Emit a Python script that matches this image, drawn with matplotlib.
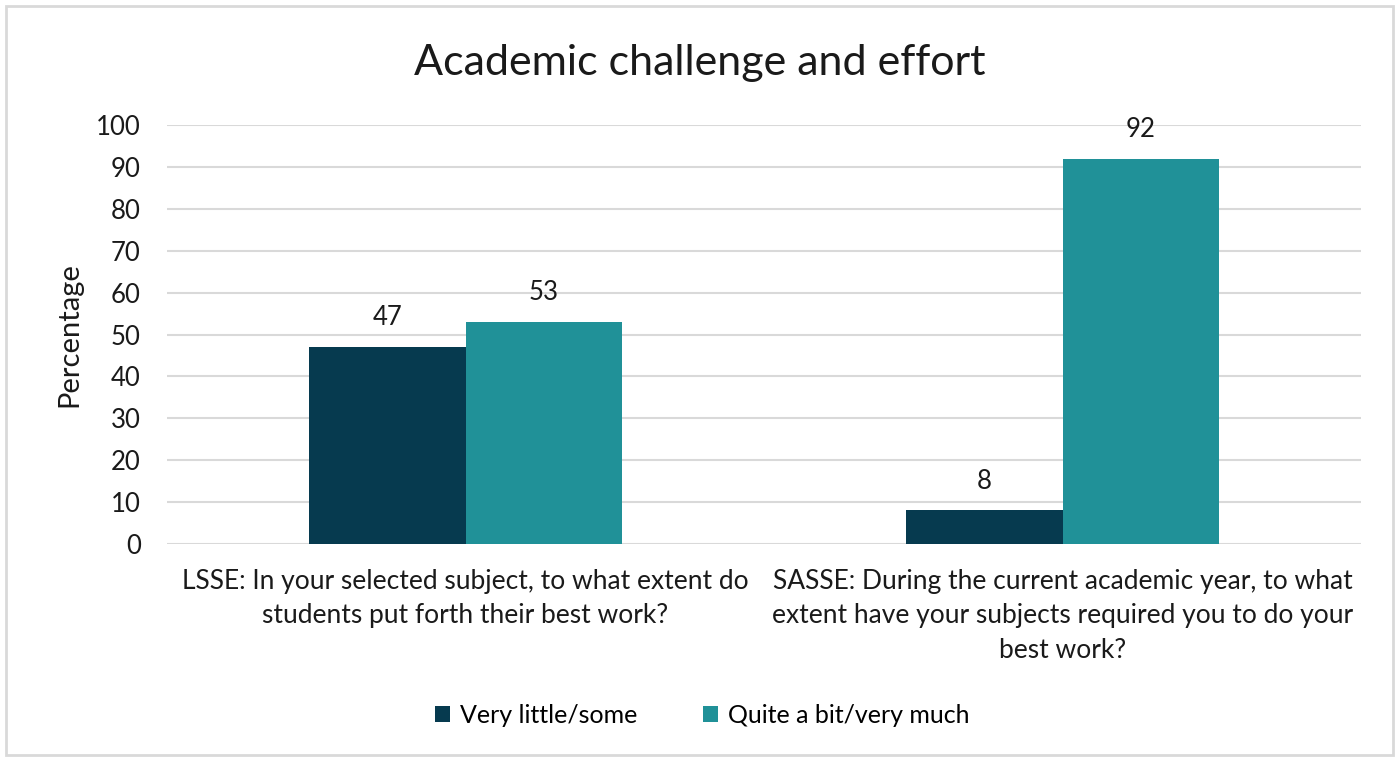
import matplotlib.pyplot as plt
import numpy as np
from matplotlib.patches import Rectangle

plt.rcParams['font.family'] = ['Lato', 'DejaVu Sans']

categories = ['LSSE: In your selected subject, to what extent do\nstudents put forth their best work?',
              'SASSE: During the current academic year, to what\nextent have your subjects required you to do your\nbest work?']
series_names = ['Very little/some', 'Quite a bit/very much']
little_some = [47, 8]
quite_much = [53, 92]
colors = ['#063a4f', '#209198']

fig = plt.figure(figsize=(13.99, 7.6), dpi=100, facecolor='white')
fig.patches.append(Rectangle((0.004, 0.007), 0.992, 0.985, transform=fig.transFigure,
                             fill=False, edgecolor='#d9d9d9', linewidth=2))
ax = fig.add_axes([0.1194, 0.2842, 0.8535, 0.5513])

x = np.arange(len(categories))
w = 0.262
b1 = ax.bar(x - w / 2, little_some, w, color=colors[0], label=series_names[0])
b2 = ax.bar(x + w / 2, quite_much, w, color=colors[1], label=series_names[1])
for bars in (b1, b2):
    ax.bar_label(bars, padding=12, fontsize=18.5, color='#1a1a1a')

ax.set_xlim(-0.5, 1.5)
ax.set_ylim(0, 100)
ax.set_yticks(range(0, 101, 10))
ax.grid(axis='y', color='#d9d9d9', linewidth=1.5)
ax.set_axisbelow(True)
for s in ax.spines.values():
    s.set_visible(False)
ax.tick_params(length=0, labelsize=18.5, colors='#1a1a1a')
ax.tick_params(axis='y', pad=19)
ax.set_xticks(x)
ax.set_xticklabels(categories, fontsize=19, linespacing=1.47)
ax.tick_params(axis='x', pad=18)
ax.set_ylabel('Percentage', fontsize=21, color='#1a1a1a', labelpad=10)

fig.suptitle('Academic challenge and effort', fontsize=31, y=0.942, color='#1a1a1a')
fig.legend(loc='center', bbox_to_anchor=(0.502, 0.059), ncol=2, frameon=False,
           fontsize=18, handlelength=0.6, handleheight=0.6, handletextpad=0.4,
           columnspacing=2.6)

fig.savefig('out.png', dpi=100, facecolor='white')
plt.close()
